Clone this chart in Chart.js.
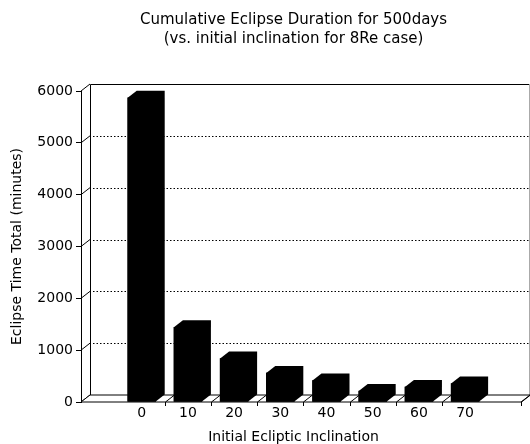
<!DOCTYPE html>
<html>
<head>
<meta charset="utf-8">
<script src="https://cdn.jsdelivr.net/npm/chart.js@4/dist/chart.umd.min.js"></script>
<style>
  html, body { margin: 0; padding: 0; background: #ffffff; }
  #wrap { width: 530px; height: 444px; }
</style>
</head>
<body>
<div id="wrap"><canvas id="c" width="530" height="444"></canvas></div>
<script>
// ---- data ----
const inclinations = [0, 10, 20, 30, 40, 50, 60, 70];          // x categories (degrees)
const eclipseMinutes = [5870, 1440, 840, 560, 415, 210, 290, 355]; // cumulative eclipse time (minutes)
const yTickValues = [0, 1000, 2000, 3000, 4000, 5000, 6000];
const xBoundaries = [5, 15, 25, 35, 45, 55, 65];                 // tick marks between bars
const titleLines = ['Cumulative Eclipse Duration for 500days', '(vs. initial inclination for 8Re case)'];
const yTitle = 'Eclipse Time Total (minutes)';
const xTitle = 'Initial Ecliptic Inclination';

// ---- 3D look ----
const DX = 9, DY = -7;
const X_MIN = -13.14, X_MAX = 78.85, X_END = 82.1;
const FONT = 'DejaVu Sans';

const threeD = {
  id: 'threeD',
  beforeDatasetsDraw(chart) {
    const { ctx, chartArea: { left, top, bottom }, scales: { x, y } } = chart;
    const xe = x.getPixelForValue(X_END);
    ctx.save();
    ctx.lineWidth = 1;
    ctx.strokeStyle = '#000';
    // back wall outline
    ctx.beginPath();
    ctx.moveTo(left + DX + 0.5, bottom + DY);
    ctx.lineTo(left + DX + 0.5, top + DY + 0.5);
    ctx.lineTo(xe + DX, top + DY + 0.5);
    ctx.stroke();
    ctx.strokeStyle = '#aaa';
    ctx.beginPath();
    ctx.moveTo(xe + DX - 0.5, top + DY);
    ctx.lineTo(xe + DX - 0.5, bottom + DY);
    ctx.stroke();
    // dotted gridlines on the back wall
    ctx.strokeStyle = '#000';
    ctx.setLineDash([1.5, 2]);
    yTickValues.forEach(v => {
      if (v === 0 || v === 6000) return;
      const yy = Math.round(y.getPixelForValue(v) + DY) + 0.5;
      ctx.beginPath();
      ctx.moveTo(left + DX + 3, yy);
      ctx.lineTo(xe + DX, yy);
      ctx.stroke();
    });
    ctx.setLineDash([]);
    // side wall slants at every y tick
    yTickValues.forEach(v => {
      const yy = y.getPixelForValue(v);
      ctx.beginPath();
      ctx.moveTo(left, yy);
      ctx.lineTo(left + DX, yy + DY);
      ctx.stroke();
    });
    // floor
    ctx.fillStyle = '#fff';
    ctx.beginPath();
    ctx.moveTo(left, bottom);
    ctx.lineTo(xe, bottom);
    ctx.lineTo(xe + DX, bottom + DY);
    ctx.lineTo(left + DX, bottom + DY);
    ctx.closePath();
    ctx.fill();
    ctx.stroke();
    // floor slants and tick marks between bars
    xBoundaries.concat([X_END]).forEach(b => {
      const px = Math.round(x.getPixelForValue(b)) + 0.5;
      ctx.beginPath();
      ctx.moveTo(px, bottom);
      ctx.lineTo(px + DX, bottom + DY);
      ctx.moveTo(px, bottom);
      ctx.lineTo(px, bottom + 4);
      ctx.stroke();
    });
    ctx.restore();
  },
  afterDatasetsDraw(chart) {
    const { ctx } = chart;
    const meta = chart.getDatasetMeta(0);
    ctx.save();
    ctx.fillStyle = '#000';
    meta.data.forEach(bar => {
      const { x, y, base, width } = bar.getProps(['x', 'y', 'base', 'width'], true);
      const L = x - width / 2, R = x + width / 2;
      ctx.beginPath();
      ctx.moveTo(L, base);
      ctx.lineTo(L, y);
      ctx.lineTo(L + DX, y + DY);
      ctx.lineTo(R + DX, y + DY);
      ctx.lineTo(R + DX, base + DY);
      ctx.lineTo(R, base);
      ctx.closePath();
      ctx.fill();
    });
    ctx.restore();
  }
};

new Chart(document.getElementById('c'), {
  type: 'bar',
  data: {
    datasets: [{
      data: inclinations.map((v, i) => ({ x: v, y: eclipseMinutes[i] })),
      backgroundColor: '#000',
      borderWidth: 0,
      barThickness: 28
    }]
  },
  options: {
    responsive: false,
    animation: false,
    devicePixelRatio: 1,
    layout: { padding: { left: 0, right: 24, top: 0, bottom: 0 } },
    plugins: {
      legend: { display: false },
      tooltip: { enabled: false },
      title: {
        display: true,
        fullSize: false,
        text: titleLines,
        color: '#000',
        font: { family: FONT, size: 15, weight: 'normal', lineHeight: 1.3 },
        padding: { top: 10, bottom: 42 }
      }
    },
    scales: {
      x: {
        type: 'linear',
        min: X_MIN,
        max: X_MAX,
        offset: false,
        afterFit(scale) { scale.height = 42; },
        afterBuildTicks(scale) { scale.ticks = inclinations.map(v => ({ value: v })); },
        grid: { display: false, drawTicks: false },
        border: { display: false },
        ticks: {
          color: '#000',
          padding: 3,
          maxRotation: 0,
          autoSkip: false,
          font: { family: FONT, size: 14 },
          callback: v => String(v)
        },
        title: {
          display: true,
          text: xTitle,
          color: '#000',
          font: { family: FONT, size: 14, lineHeight: 1 },
          padding: { top: 0, bottom: 0 }
        }
      },
      y: {
        min: 0,
        max: 6000,
        afterFit(scale) { scale.width = 81; },
        afterBuildTicks(scale) { scale.ticks = yTickValues.map(v => ({ value: v })); },
        grid: { drawOnChartArea: false, drawTicks: true, tickLength: 5, color: '#000' },
        border: { display: true, color: '#000', width: 1 },
        ticks: {
          color: '#000',
          padding: 3,
          font: { family: FONT, size: 14 },
          callback: v => String(v)
        },
        title: {
          display: true,
          text: yTitle,
          color: '#000',
          font: { family: FONT, size: 14, lineHeight: 1.2 },
          padding: { top: 9, bottom: 0 }
        }
      }
    }
  },
  plugins: [threeD]
});
</script>
</body>
</html>
